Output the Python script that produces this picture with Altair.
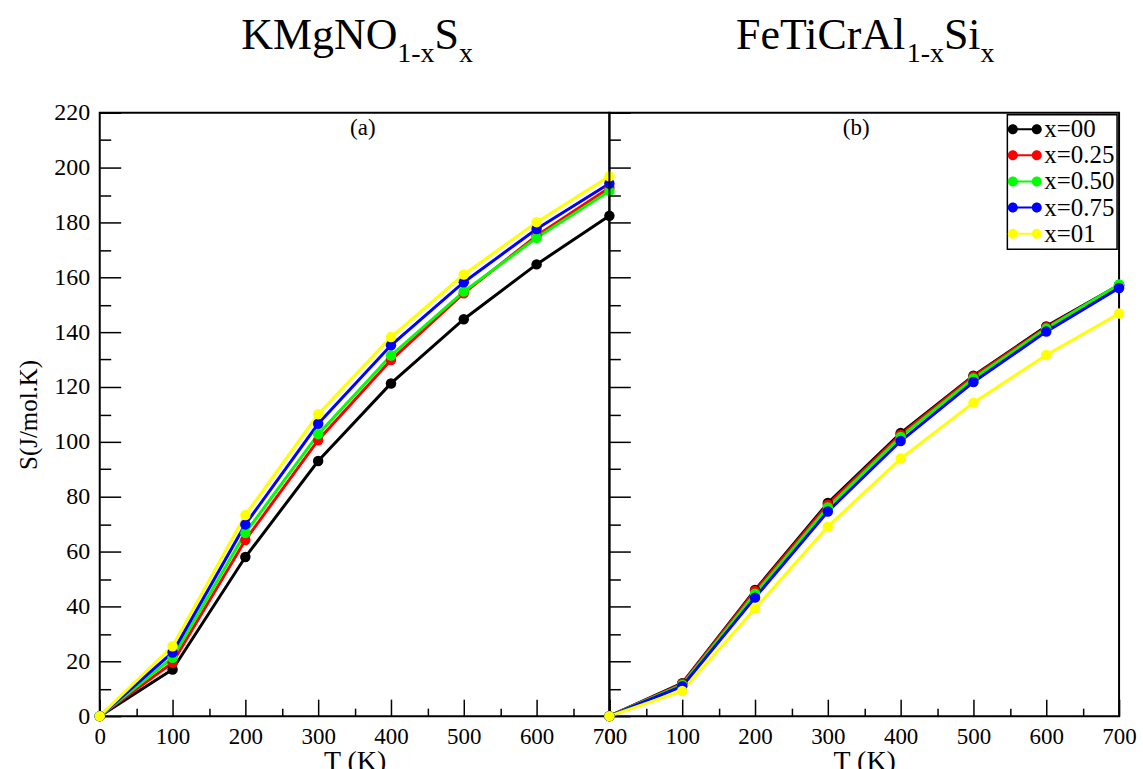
import altair as alt
import pandas as pd

SERIF = "Liberation Serif"
W, H = 511, 605

# ---------------- data ----------------
T = [0, 100, 200, 300, 400, 500, 600, 700]
series = ["x=00", "x=0.25", "x=0.50", "x=0.75", "x=01"]
colors = ["#000000", "#ff0000", "#00ff00", "#0000ff", "#ffff00"]

kmgno_x00 = [0, 17.0, 58.0, 93.0, 121.3, 144.7, 164.7, 182.4]
kmgno_x025 = [0, 19.5, 64.2, 100.6, 129.8, 154.2, 175.2, 192.6]
kmgno_x050 = [0, 21.3, 66.8, 102.8, 131.5, 154.8, 174.4, 191.5]
kmgno_x075 = [0, 23.2, 69.9, 106.6, 135.2, 158.2, 177.6, 194.2]
kmgno_x01 = [0, 25.5, 73.3, 110.1, 138.2, 161.0, 180.1, 196.8]

fetic_x00 = [0, 12.0, 46.0, 77.7, 103.2, 124.1, 142.1, 157.2]
fetic_x025 = [0, 11.8, 45.6, 77.1, 102.6, 123.8, 141.8, 157.0]
fetic_x050 = [0, 11.4, 44.6, 76.1, 101.8, 123.1, 141.3, 157.4]
fetic_x075 = [0, 10.9, 43.2, 74.6, 100.3, 121.8, 140.2, 156.1]
fetic_x01 = [0, 9.2, 39.2, 69.1, 93.9, 114.3, 131.7, 146.8]

y_ticks_major = list(range(0, 221, 20))
y_ticks_minor = list(range(10, 220, 20))
x_ticks_major = list(range(0, 701, 100))
x_ticks_minor = list(range(50, 700, 100))

# legend symbol: line with a dot at each end (all filled, same winding)
LEG_PATH = ("M-1.55,-0.1L1.55,-0.1L1.55,0.1L-1.55,0.1Z"
            "M-0.7,0A0.5,0.5,0,1,1,-1.7,0A0.5,0.5,0,1,1,-0.7,0Z"
            "M1.7,0A0.5,0.5,0,1,1,0.7,0A0.5,0.5,0,1,1,1.7,0Z")


def make_df(all_vals):
    rows = []
    for s, vals in zip(series, all_vals):
        for t, v in zip(T, vals):
            rows.append({"T": t, "S": v, "series": s})
    return pd.DataFrame(rows)


def text_layer(txt, px, py, fs):
    d = pd.DataFrame({"t": [txt]})
    return alt.Chart(d).mark_text(
        font=SERIF, fontSize=fs, align="left", baseline="alphabetic", color="black"
    ).encode(text="t:N", x=alt.value(px), y=alt.value(py))


def panel(df, tag, tag_x, title_parts, show_y, show_legend):
    xs = alt.Scale(domain=[0, 700], nice=False, zero=False)
    ys = alt.Scale(domain=[0, 220], nice=False, zero=False)
    cs = alt.Scale(domain=series, range=colors)

    x_axis = alt.Axis(orient="bottom", values=x_ticks_major, ticks=False, tickSize=0,
                      labelPadding=9, labelFontSize=23, labelFont=SERIF, labelColor="black",
                      labelFlush=False, labelOverlap=False, title="T (K)", titleFont=SERIF,
                      titleFontSize=28, titleFontWeight="normal", titleColor="black",
                      titlePadding=0, grid=False, domain=False)
    if show_y:
        y_axis = alt.Axis(orient="left", values=y_ticks_major, ticks=False, tickSize=0,
                          labelPadding=10, labelFontSize=24, labelFont=SERIF,
                          labelColor="black", labelOverlap=False, title="S(J/mol.K)",
                          titleFont=SERIF, titleFontSize=25, titleFontWeight="normal",
                          titleColor="black", titlePadding=12, grid=False, domain=False)
    else:
        y_axis = None

    layers = []
    if show_legend:
        leg = alt.Legend(orient="top-right", offset=2, title=None, symbolType=LEG_PATH,
                         symbolSize=400, symbolStrokeWidth=0, symbolOffset=3, labelOffset=7,
                         labelFont=SERIF, labelFontSize=25, labelColor="black",
                         strokeColor="black", fillColor="white", padding=2, rowPadding=0.2,
                         labelLimit=300)
        # zero-size carrier layer that owns the legend (placed first so it wins merging)
        layers.append(alt.Chart(df).mark_circle(size=0, opacity=1).encode(
            x=alt.X("T:Q", scale=xs, axis=None),
            y=alt.Y("S:Q", scale=ys, axis=None),
            fill=alt.Fill("series:N", scale=cs, legend=leg),
        ))

    lines = alt.Chart(df).mark_line(strokeWidth=3).encode(
        x=alt.X("T:Q", scale=xs, axis=x_axis),
        y=alt.Y("S:Q", scale=ys, axis=y_axis),
        stroke=alt.Stroke("series:N", scale=cs, legend=None),
    )

    points = alt.Chart(df).mark_circle(size=110, opacity=1).encode(
        x=alt.X("T:Q", scale=xs, axis=None),
        y=alt.Y("S:Q", scale=ys, axis=None),
        fill=alt.Fill("series:N", scale=cs, legend=None),
    )

    def tick_layer(xv, yv, xsize, ysize):
        return alt.Chart(df).mark_point(opacity=0).encode(
            x=alt.X("T:Q", scale=xs,
                    axis=alt.Axis(orient="top", offset=-H, values=xv, labels=False,
                                  domain=False, grid=False, ticks=True, tickSize=xsize,
                                  tickWidth=1.5, tickColor="black", title=None)),
            y=alt.Y("S:Q", scale=ys,
                    axis=alt.Axis(orient="right", offset=-W, values=yv, labels=False,
                                  domain=False, grid=False, ticks=True, tickSize=ysize,
                                  tickWidth=1.5, tickColor="black", title=None)),
        )

    layers += [lines, points,
               tick_layer(x_ticks_major, y_ticks_major, 17, 21),
               tick_layer(x_ticks_minor, y_ticks_minor, 8, 11),
               text_layer(tag, tag_x, 22, 23)]
    for txt, px, py, fs in title_parts:
        layers.append(text_layer(txt, px, py, fs))

    return alt.layer(*layers).resolve_axis(x="independent", y="independent").properties(
        width=W, height=H)


left_df = make_df([kmgno_x00, kmgno_x025, kmgno_x050, kmgno_x075, kmgno_x01])
right_df = make_df([fetic_x00, fetic_x025, fetic_x050, fetic_x075, fetic_x01])

left_title = [("KMgNO", 142, -64, 44), ("1-x", 298.4, -51, 28),
              ("S", 335.7, -64, 44), ("x", 360.2, -51, 28)]
right_title = [("FeTiCrAl", 127, -64, 44), ("1-x", 298.1, -51, 28),
               ("Si", 335.4, -64, 44), ("x", 372.1, -51, 28)]

left = panel(left_df, "(a)", 251, left_title, True, False)
right = panel(right_df, "(b)", 234, right_title, False, True)

chart = alt.hconcat(left, right, spacing=0, bounds="flush").resolve_scale(
    stroke="independent", fill="independent").resolve_legend(
    stroke="independent", fill="independent").configure_view(
    stroke="black", strokeWidth=2).configure_legend(strokeWidth=1.5).properties(
    padding={"left": 16, "top": 12, "right": 5, "bottom": -6}, background="white")

chart.save("out.html", embed_options={"renderer": "svg", "actions": False})
